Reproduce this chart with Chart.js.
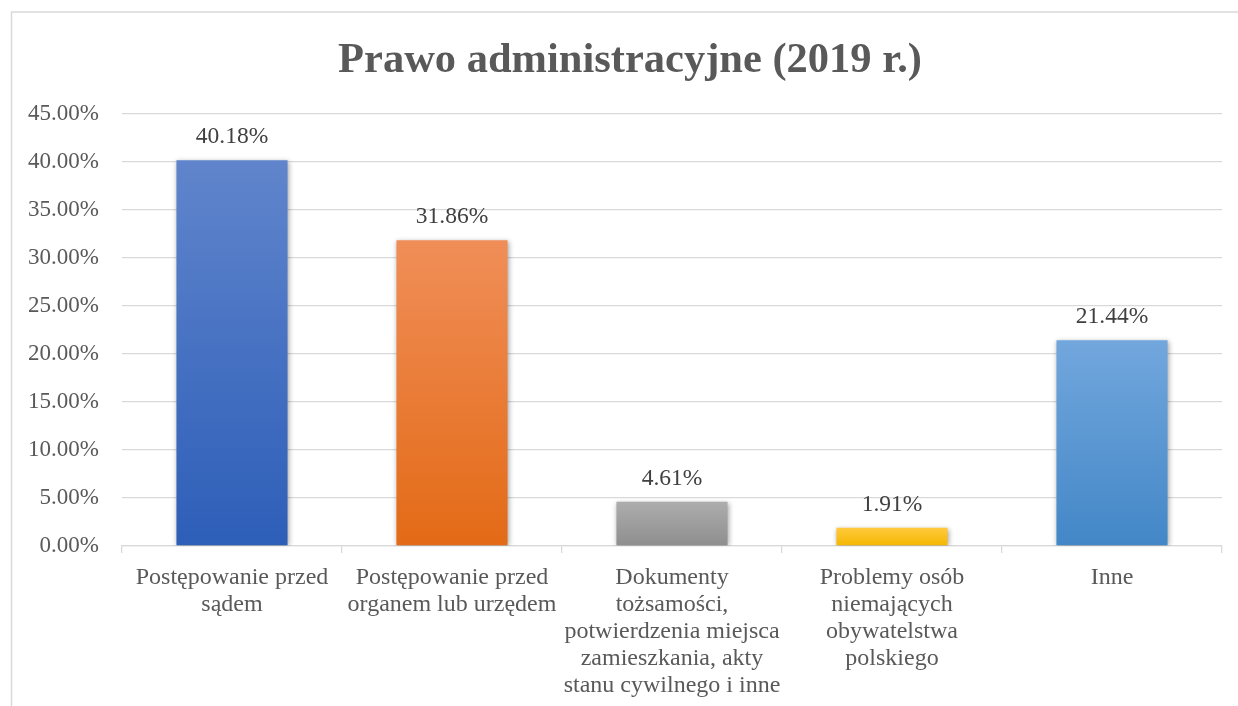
<!DOCTYPE html>
<html lang="pl">
<head>
<meta charset="utf-8">
<title>Prawo administracyjne (2019 r.)</title>
<script src="https://cdn.jsdelivr.net/npm/chart.js@4/dist/chart.umd.min.js"></script>
<style>
  html, body { margin: 0; padding: 0; background: #fff; }
  #wrap { width: 1238px; height: 706px; position: relative; }
</style>
</head>
<body>
<div id="wrap"><canvas id="wykres"></canvas></div>
<script>
// ===== dane =====
const tytul = "Prawo administracyjne (2019 r.)";
const kategorie = [
    ["Postępowanie przed", "sądem"],
    ["Postępowanie przed", "organem lub urzędem"],
    ["Dokumenty", "tożsamości,", "potwierdzenia miejsca", "zamieszkania, akty", "stanu cywilnego i inne"],
    ["Problemy osób", "niemających", "obywatelstwa", "polskiego"],
    ["Inne"]
];
const wartosci = [40.18, 31.86, 4.61, 1.91, 21.44];
const osY = [0, 5, 10, 15, 20, 25, 30, 35, 40, 45];

// kolory slupkow (gora / dol gradientu)
const kolorGora = ["#6085cc", "#f08e58", "#adadad", "#ffca3e", "#72a7dd"];
const kolorDol  = ["#2d5eb8", "#e36a16", "#8e8e8e", "#f5b700", "#4387c7"];

const czcionka = "'Liberation Serif', 'Times New Roman', serif";

// gradient dla kazdego slupka osobno
function gradient(ctx) {
    const chart = ctx.chart;
    const i = ctx.dataIndex;
    if (!chart.chartArea || i === undefined) return kolorGora[i] || "#888";
    const y = chart.scales.y;
    const gora = y.getPixelForValue(wartosci[i]);
    const dol = y.getPixelForValue(0);
    const g = chart.ctx.createLinearGradient(0, gora, 0, dol);
    g.addColorStop(0, kolorGora[i]);
    g.addColorStop(1, kolorDol[i]);
    return g;
}

// ramka i tytul
const ramka = {
    id: "ramka",
    beforeDraw(chart) {
        const c = chart.ctx;
        c.save();
        c.fillStyle = "#fff";
        c.fillRect(0, 0, chart.width, chart.height);
        c.strokeStyle = "#d9d9d9";
        c.lineWidth = 1.5;
        c.strokeRect(11.5, 12, chart.width + 20, chart.height + 20);
        // tytul - w oryginale lekko przesuniety w prawo
        c.font = "bold 42.5px " + czcionka;
        c.fillStyle = "#595959";
        c.textAlign = "center";
        c.textBaseline = "alphabetic";
        c.fillText(tytul, 630, 72);
        c.restore();
    }
};

// cien pod slupkami
const cien = {
    id: "cien",
    beforeDatasetsDraw(chart) {
        const c = chart.ctx;
        c.save();
        c.shadowColor = "rgba(0,0,0,0.35)";
        c.shadowBlur = 5;
        c.shadowOffsetX = 1;
        c.shadowOffsetY = 1;
    },
    afterDatasetsDraw(chart) {
        chart.ctx.restore();
    }
};

// etykiety wartosci nad slupkami
const etykiety = {
    id: "etykiety",
    afterDatasetsDraw(chart) {
        const c = chart.ctx;
        const meta = chart.getDatasetMeta(0);
        c.save();
        c.font = "23.5px " + czcionka;
        c.fillStyle = "#404040";
        c.textAlign = "center";
        c.textBaseline = "middle";
        meta.data.forEach((bar, i) => {
            c.fillText(wartosci[i].toFixed(2) + "%", bar.x, bar.y - 23);
        });
        c.restore();
    }
};

new Chart(document.getElementById("wykres"), {
    type: "bar",
    data: {
        labels: kategorie,
        datasets: [{
            data: wartosci,
            backgroundColor: gradient,
            borderWidth: 0,
            barPercentage: 0.505,
            categoryPercentage: 1
        }]
    },
    options: {
        responsive: true,
        maintainAspectRatio: false,
        animation: false,
        layout: { padding: { left: 0, right: 16, top: 114, bottom: 0 } },
        plugins: {
            legend: { display: false },
            tooltip: { enabled: false },
            title: { display: false }
        },
        scales: {
            y: {
                min: 0,
                max: 45,
                afterBuildTicks(scale) {
                    scale.ticks = osY.map(v => ({ value: v }));
                },
                afterFit(scale) { scale.width = 122; },
                border: { display: false },
                grid: { color: "#d9d9d9", lineWidth: 1.3, drawTicks: false },
                ticks: {
                    padding: 23,
                    color: "#595959",
                    font: { family: czcionka, size: 23 },
                    callback: v => v.toFixed(2) + "%"
                }
            },
            x: {
                afterFit(scale) { scale.height = 160; },
                border: { color: "#d9d9d9", width: 1.3 },
                grid: { color: "#d9d9d9", lineWidth: 1.3, drawOnChartArea: false, tickLength: 7, offset: true },
                ticks: {
                    padding: 11,
                    color: "#595959",
                    maxRotation: 0,
                    autoSkip: false,
                    font: { family: czcionka, size: 24, lineHeight: 1.125 }
                }
            }
        }
    },
    plugins: [ramka, cien, etykiety]
});
</script>
</body>
</html>
